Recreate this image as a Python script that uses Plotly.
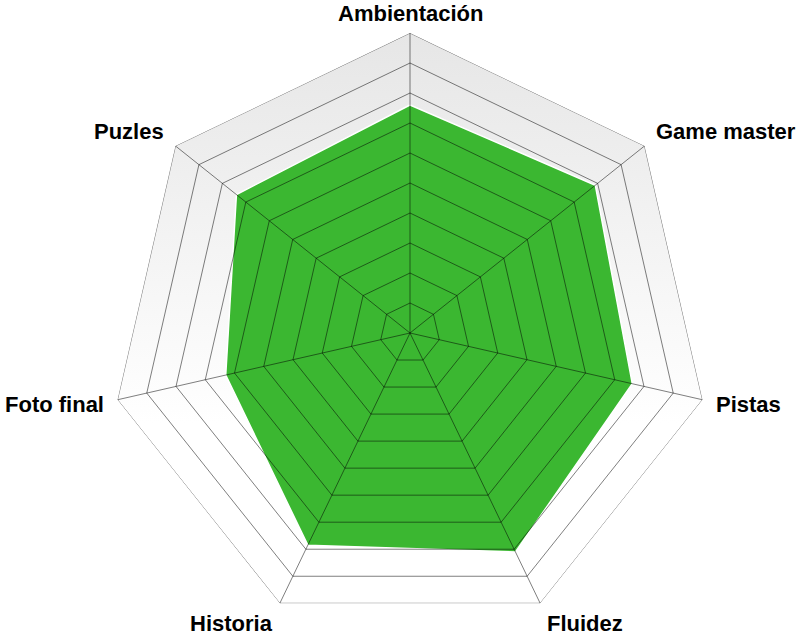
import math
import plotly.graph_objects as go

categories = ["Ambientación", "Game master", "Pistas", "Fluidez", "Historia", "Foto final", "Puzles"]
scores = [7.6, 7.9, 7.6, 8.1, 7.85, 6.3, 7.4]
radial_max = 10
ring_levels = list(range(1, radial_max + 1))

fill_green = "#3bb731"
grid_color = "rgba(0,0,0,0.5)"
label_font = dict(family="Liberation Sans, Arial, sans-serif", size=22, color="black", weight="bold")

fig = go.Figure()

n = len(categories)
angles = [math.radians(90 - 360.0 * i / n) for i in range(n)]

# Background gradient heptagon (cartesian layer, beneath the polar subplot)
bg_x = [radial_max * math.cos(a) for a in angles + angles[:1]]
bg_y = [radial_max * math.sin(a) for a in angles + angles[:1]]
fig.add_trace(go.Scatter(
    x=bg_x, y=bg_y, mode="lines", fill="toself",
    line=dict(width=0, color="rgba(0,0,0,0)"),
    fillgradient=dict(type="vertical", colorscale=[[0, "#ffffff"], [1, "#e6e6e6"]],
                      start=-3, stop=radial_max),
    hoverinfo="skip", showlegend=False,
))

# Data area
fig.add_trace(go.Scatterpolar(
    r=scores + scores[:1], theta=categories + categories[:1],
    mode="lines", fill="toself", fillcolor=fill_green,
    line=dict(color="white", width=1.5),
    showlegend=False, hoverinfo="skip",
))

# Grid drawn above the fill
for lvl in ring_levels:
    fig.add_trace(go.Scatterpolar(
        r=[lvl] * (n + 1), theta=categories + categories[:1],
        mode="lines", line=dict(color=grid_color, width=1),
        showlegend=False, hoverinfo="skip",
    ))
for cat in categories:
    fig.add_trace(go.Scatterpolar(
        r=[0, radial_max], theta=[cat, cat],
        mode="lines", line=dict(color=grid_color, width=1),
        showlegend=False, hoverinfo="skip",
    ))

# Category labels placed just outside each vertex (paper coords of the square plot area)
top_margin, plot_side = 33, 600
label_rx = 1.04
label_ry = 1.075
max_label_y = 1 + (top_margin - 14) / plot_side  # keep the top label fully inside the canvas
for cat, a in zip(categories, angles):
    c = math.cos(a)
    xanchor = "center" if abs(c) < 0.05 else ("left" if c > 0 else "right")
    fig.add_annotation(
        x=0.5 + 0.5 * label_rx * c,
        y=min(0.5 + 0.5 * label_ry * math.sin(a), max_label_y),
        xref="paper", yref="paper",
        text=cat, showarrow=False, xanchor=xanchor, yanchor="middle",
        font=label_font,
    )

fig.update_layout(
    width=800, height=637,
    margin=dict(l=110, r=90, t=top_margin, b=4),
    paper_bgcolor="white", plot_bgcolor="rgba(0,0,0,0)",
    xaxis=dict(range=[-radial_max, radial_max], visible=False, fixedrange=True),
    yaxis=dict(range=[-radial_max, radial_max], visible=False, fixedrange=True),
    polar=dict(
        bgcolor="rgba(0,0,0,0)",
        gridshape="linear",
        radialaxis=dict(range=[0, radial_max], visible=False, showgrid=False),
        angularaxis=dict(
            direction="clockwise", rotation=90,
            showgrid=False, showline=False, ticks="", showticklabels=False,
        ),
    ),
)

fig.write_html("out.html", config={"displayModeBar": False},
               post_script="document.body.style.margin='0';")
